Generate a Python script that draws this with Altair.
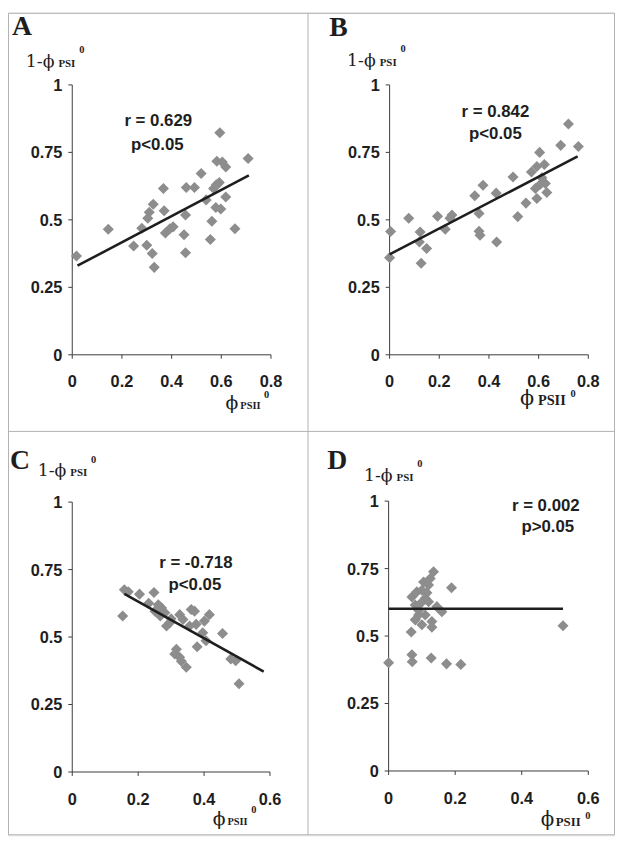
import altair as alt
import pandas as pd

# ---------------- data ----------------
a_x = [0.017, 0.145, 0.247, 0.28, 0.30, 0.322, 0.33, 0.304, 0.31, 0.326, 0.367, 0.37,
       0.375, 0.393, 0.406, 0.45, 0.456, 0.456, 0.459, 0.492, 0.519, 0.539, 0.556, 0.562,
       0.569, 0.592, 0.578, 0.598, 0.618, 0.582, 0.604, 0.618, 0.594, 0.655, 0.708, 0.58]
a_y = [0.366, 0.465, 0.403, 0.469, 0.406, 0.375, 0.324, 0.506, 0.528, 0.558, 0.616, 0.534,
       0.451, 0.467, 0.474, 0.445, 0.518, 0.378, 0.62, 0.62, 0.672, 0.574, 0.427, 0.495,
       0.616, 0.638, 0.546, 0.54, 0.585, 0.717, 0.714, 0.696, 0.823, 0.467, 0.727, 0.63]
a_fit_x = [0.021, 0.711]
a_fit_y = [0.33, 0.665]

b_x = [0.004, 0.0, 0.077, 0.123, 0.12, 0.127, 0.149, 0.193, 0.224, 0.243, 0.251, 0.343,
       0.376, 0.36, 0.36, 0.364, 0.429, 0.431, 0.497, 0.516, 0.549, 0.571, 0.593, 0.604,
       0.623, 0.593, 0.587, 0.607, 0.627, 0.633, 0.613, 0.689, 0.72, 0.76]
b_y = [0.457, 0.36, 0.506, 0.455, 0.418, 0.339, 0.394, 0.513, 0.465, 0.506, 0.518, 0.589,
       0.628, 0.524, 0.458, 0.443, 0.599, 0.418, 0.659, 0.512, 0.562, 0.677, 0.698, 0.75,
       0.705, 0.579, 0.616, 0.632, 0.635, 0.601, 0.656, 0.776, 0.855, 0.772]
b_fit_x = [0.0, 0.757]
b_fit_y = [0.372, 0.735]

c_x = [0.158, 0.153, 0.204, 0.248, 0.251, 0.261, 0.271, 0.281, 0.286, 0.296, 0.316, 0.311,
       0.326, 0.346, 0.326, 0.336, 0.361, 0.371, 0.356, 0.376, 0.379, 0.401, 0.416, 0.396,
       0.406, 0.456, 0.481, 0.496, 0.506, 0.17, 0.232, 0.267, 0.30, 0.331]
c_y = [0.675, 0.578, 0.659, 0.665, 0.596, 0.62, 0.608, 0.59, 0.541, 0.553, 0.455, 0.437,
       0.425, 0.388, 0.583, 0.565, 0.602, 0.596, 0.541, 0.547, 0.464, 0.559, 0.583, 0.516,
       0.486, 0.513, 0.419, 0.412, 0.327, 0.668, 0.625, 0.578, 0.568, 0.41]
c_fit_x = [0.158, 0.581]
c_fit_y = [0.66, 0.372]

d_x = [0.0, 0.07, 0.071, 0.128, 0.174, 0.217, 0.524, 0.068, 0.1, 0.13, 0.08, 0.09, 0.11,
       0.145, 0.16, 0.08, 0.07, 0.085, 0.1, 0.12, 0.125, 0.135, 0.189, 0.11, 0.09, 0.12,
       0.13, 0.105, 0.115, 0.095]
d_y = [0.401, 0.431, 0.405, 0.419, 0.397, 0.395, 0.538, 0.515, 0.542, 0.533, 0.56, 0.578,
       0.578, 0.609, 0.59, 0.615, 0.645, 0.664, 0.67, 0.689, 0.713, 0.738, 0.679, 0.64,
       0.596, 0.627, 0.554, 0.7, 0.66, 0.62]
d_fit_x = [0.0, 0.524]
d_fit_y = [0.601, 0.601]

y_ticks = [0, 0.25, 0.5, 0.75, 1]
y_tick_labels = ["0", "0.25", "0.5", "0.75", "1"]
x_ticks_ab = [0, 0.2, 0.4, 0.6, 0.8]
x_tick_labels_ab = ["0", "0.2", "0.4", "0.6", "0.8"]
x_ticks_cd = [0, 0.2, 0.4, 0.6]
x_tick_labels_cd = ["0", "0.2", "0.4", "0.6"]

panel_letters = ["A", "B", "C", "D"]
r_texts = ["r = 0.629", "r = 0.842", "r = -0.718", "r = 0.002"]
p_texts = ["p<0.05", "p<0.05", "p<0.05", "p>0.05"]

# ---------------- styles ----------------
PT = "#8d8d8d"
AX = "#3c3c3c"
INK = "#1e1e1e"
FRAME = "#b2b2b2"
SANS = "Liberation Sans"
SERIF = "DejaVu Serif"
TIMES = "Liberation Serif"
one = pd.DataFrame({"k": [0]})


def txt(s, x, y, size, font, weight="normal", align="left", baseline="alphabetic"):
    return alt.Chart(one).mark_text(
        text=s, fontSize=size, font=font, fontWeight=weight, align=align,
        baseline=baseline, color=INK
    ).encode(x=alt.value(x), y=alt.value(y))


def panel(px, py, fx, fy, xmax, xticks, xlabels, xr, yr, letter, letter_xy,
          yt_pos, xt_pos, rtxt, ptxt, r_xy, p_xy):
    xs = alt.Scale(domain=[0, xmax], range=xr, nice=False, zero=False)
    ys = alt.Scale(domain=[0, 1], range=yr, nice=False, zero=False)

    def X(f):
        return alt.X(f, type="quantitative", scale=xs, axis=None)

    def Y(f):
        return alt.Y(f, type="quantitative", scale=ys, axis=None)

    pts = pd.DataFrame({"x": px, "y": py})
    fit = pd.DataFrame({"x": fx, "y": fy})
    xt = pd.DataFrame({"v": xticks, "lab": xlabels})
    yt = pd.DataFrame({"v": y_ticks, "lab": y_tick_labels})
    ax_df = pd.DataFrame({"x0": [0], "x1": [xmax], "y0": [0], "y1": [1]})

    xaxis = alt.Chart(ax_df).mark_rule(color=AX, strokeWidth=1).encode(
        x=X("x0"), x2=alt.X2("x1"), y=Y("y0"))
    yaxis = alt.Chart(ax_df).mark_rule(color=AX, strokeWidth=1).encode(
        x=X("x0"), y=Y("y0"), y2=alt.Y2("y1"))
    xtick = alt.Chart(xt).mark_rule(color=AX, strokeWidth=1).encode(
        x=X("v"), y=alt.value(yr[0]), y2=alt.value(yr[0] + 4))
    ytick = alt.Chart(yt).mark_rule(color=AX, strokeWidth=1).encode(
        y=Y("v"), x=alt.value(xr[0] - 4), x2=alt.value(xr[0]))
    xlab = alt.Chart(xt).mark_text(
        font=SANS, fontSize=16.5, fontWeight="bold", color=INK, align="center",
        baseline="alphabetic").encode(x=X("v"), y=alt.value(yr[0] + 33), text="lab:N")
    ylab = alt.Chart(yt).mark_text(
        font=SANS, fontSize=16.5, fontWeight="bold", color=INK, align="right",
        baseline="middle", dy=1).encode(y=Y("v"), x=alt.value(xr[0] - 10), text="lab:N")
    points = alt.Chart(pts).mark_point(
        shape="diamond", filled=True, size=125, color=PT, opacity=1).encode(
        x=X("x"), y=Y("y"))
    line = alt.Chart(fit).mark_line(color=INK, strokeWidth=2.6).encode(
        x=X("x"), y=Y("y"))

    # y-title: (x of "1-phi", baseline, superscript baseline)
    y1, yb, ys_b = yt_pos
    # x-title: (x of phi, x of "PSII", x of "0", baseline, sup baseline, PSII size, phi size)
    x1, x2, x3, xb, xs_b, psz, fsz = xt_pos
    extras = [
        txt(letter, letter_xy[0], letter_xy[1], 28, TIMES, "bold"),
        txt("1-\u03d5", y1, yb, 17.5, SERIF),
        txt("PSI", y1 + 33, yb, 11, TIMES, "bold"),
        txt("0", y1 + 54, ys_b, 10.5, TIMES, "bold"),
        txt("\u03d5", x1, xb, fsz, SERIF),
        txt("PSII", x2, xb, psz, TIMES, "bold"),
        txt("0", x3, xs_b, 10.5, TIMES, "bold"),
        txt(rtxt, r_xy[0], r_xy[1], 17, SANS, "bold", align="center"),
        txt(ptxt, p_xy[0], p_xy[1], 17, SANS, "bold", align="center"),
    ]
    return alt.layer(xaxis, yaxis, xtick, ytick, xlab, ylab, points, line, *extras)


pA = panel(a_x, a_y, a_fit_x, a_fit_y, 0.8, x_ticks_ab, x_tick_labels_ab,
           [65, 266], [346, 73], panel_letters[0], (4, 23),
           (18, 55, 41), (220, 235, 259, 401, 390, 10.5, 19),
           r_texts[0], p_texts[0], (152, 115), (151, 139))
pB = panel(b_x, b_y, b_fit_x, b_fit_y, 0.8, x_ticks_ab, x_tick_labels_ab,
           [386, 587], [346, 73], panel_letters[1], (325, 24),
           (343, 54, 40), (518, 536, 569, 397, 389, 14.5, 21),
           r_texts[1], p_texts[1], (493, 105), (493, 128))
pC = panel(c_x, c_y, c_fit_x, c_fit_y, 0.6, x_ticks_cd, x_tick_labels_cd,
           [65, 265], [768, 495], panel_letters[2], (2, 462),
           (30, 469, 455), (207, 222, 246, 822, 809, 10.5, 19),
           r_texts[2], p_texts[2], (190, 562), (189, 584))
pD = panel(d_x, d_y, d_fit_x, d_fit_y, 0.6, x_ticks_cd, x_tick_labels_cd,
           [385, 587], [767, 494], panel_letters[3], (323, 462),
           (360, 474, 460), (539, 554, 584, 823, 816, 13, 20),
           r_texts[3], p_texts[3], (544, 504), (546, 525))

# frame lines around and between the four panels
fr = alt.Chart(one).mark_rule(color=FRAME, strokeWidth=1)
frame = alt.layer(
    fr.encode(x=alt.value(0.5), y=alt.value(0.5), y2=alt.value(831.5)),
    fr.encode(x=alt.value(613.5), y=alt.value(0.5), y2=alt.value(831.5)),
    fr.encode(x=alt.value(0.5), x2=alt.value(613.5), y=alt.value(0.5)),
    fr.encode(x=alt.value(0.5), x2=alt.value(613.5), y=alt.value(831.5)),
    fr.encode(x=alt.value(303.5), y=alt.value(0.5), y2=alt.value(831.5)),
    fr.encode(x=alt.value(0.5), x2=alt.value(613.5), y=alt.value(423.5)),
)

chart = alt.layer(frame, pA, pB, pC, pD).resolve_scale(
    x="independent", y="independent"
).properties(
    width=614, height=832, padding=0
).configure_view(strokeWidth=0).configure(background="white")

chart.save("out.html", embed_options={"renderer": "svg", "actions": False})
